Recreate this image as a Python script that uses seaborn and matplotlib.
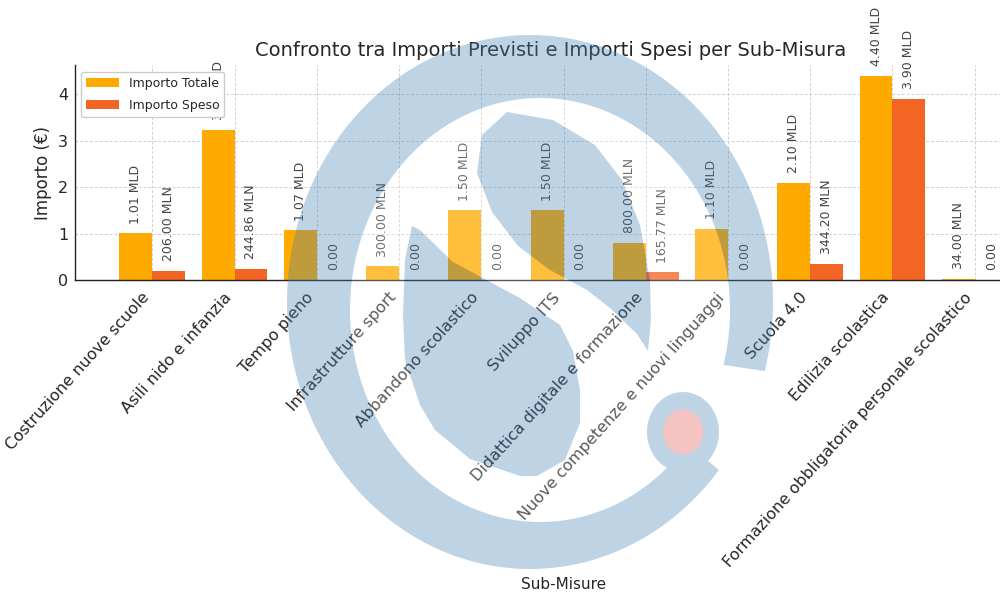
import numpy as np
import pandas as pd
import matplotlib
matplotlib.use("Agg")
import matplotlib.pyplot as plt
import seaborn as sb
from matplotlib.path import Path
from matplotlib.patches import PathPatch, Ellipse

# dati (miliardi di euro)
sub_misure = [
    "Costruzione nuove scuole", "Asili nido e infanzia", "Tempo pieno",
    "Infrastrutture sport", "Abbandono scolastico", "Sviluppo ITS",
    "Didattica digitale e formazione", "Nuove competenze e nuovi linguaggi",
    "Scuola 4.0", "Edilizia scolastica",
    "Formazione obbligatoria personale scolastico",
]
importo_totale = [1.01, 3.24, 1.07, 0.30, 1.50, 1.50, 0.80, 1.10, 2.10, 4.40, 0.034]
importo_speso = [0.206, 0.24486, 0.0, 0.0, 0.0, 0.0, 0.16577, 0.0, 0.3442, 3.90, 0.0]
serie = ["Importo Totale", "Importo Speso"]
colori = ["#FFAA00", "#F26522"]


def fmt(v):
    if v >= 1:
        return f"{v:.2f} MLD"
    if v > 0:
        return f"{v * 1000:.2f} MLN"
    return "0.00"


df = pd.DataFrame({
    "Sub-Misure": sub_misure * 2,
    "Importo": importo_totale + importo_speso,
    "Serie": [serie[0]] * len(sub_misure) + [serie[1]] * len(sub_misure),
})

sb.set_style("whitegrid")
plt.rcParams['font.family'] = ['DejaVu Sans']

fig = plt.figure(figsize=(10, 6), dpi=100)
ax = fig.add_axes([0.075, 0.533, 0.977, 0.358])

sb.barplot(data=df, x="Sub-Misure", y="Importo", hue="Serie",
           palette=colori, width=0.8, saturation=1, linewidth=0,
           ax=ax, legend=True)

ax.set_xlim(-0.94, 10.94)
ax.set_ylim(0, 4.62)
ax.set_yticks([0, 1, 2, 3, 4])
ax.grid(True, linestyle=(0, (3, 2)), color="#d0d0d0", linewidth=0.7)
ax.set_axisbelow(True)
for s in ["top", "right"]:
    ax.spines[s].set_visible(False)
for s in ["left", "bottom"]:
    ax.spines[s].set_visible(True)
    ax.spines[s].set_color("#222222")
    ax.spines[s].set_linewidth(1.0)
ax.tick_params(direction="in", length=3, width=1, color="#444444")
ax.tick_params(axis="x", pad=7)
ax.tick_params(axis="y", pad=5)

# etichette sulle barre
valori = importo_totale + importo_speso
for p, v in zip(ax.patches[:len(valori)], valori):
    ax.annotate(fmt(v), (p.get_x() + p.get_width() / 2, p.get_height()),
                xytext=(0, 7), textcoords="offset points", rotation=90,
                ha="center", va="bottom", fontsize=9, color="#444444",
                annotation_clip=False)

ax.set_xticks(range(len(sub_misure)))
ax.set_xticklabels(sub_misure, rotation=48, ha="right", fontsize=11.5)
ax.tick_params(axis="y", labelsize=11.5)
ax.set_xlabel("Sub-Misure", fontsize=11, labelpad=5)
ax.set_ylabel("Importo (€)", fontsize=12)
ax.set_title("Confronto tra Importi Previsti e Importi Spesi per Sub-Misura",
             fontsize=14, pad=7, x=0.487)
ax.legend(loc="upper left", fontsize=9, frameon=True, framealpha=1,
          edgecolor="#cccccc", labelspacing=0.75, handlelength=2.6)


# filigrana (logo semitrasparente), in pixel dall'angolo in alto a sinistra
def px(pts, ccw=True):
    pts = np.array([(x / 1000, 1 - y / 600) for x, y in pts])
    x, y = pts[:, 0], pts[:, 1]
    area = 0.5 * np.sum(x * np.roll(y, -1) - np.roll(x, -1) * y)
    return pts if (area > 0) == ccw else pts[::-1]


def est(a):
    return (530 + 243 * np.cos(a), 302 - 267 * np.sin(a))


def intr(a):
    return (540 + 190 * np.cos(a), 310 - 212 * np.sin(a))


t = np.radians(np.linspace(-15, 321, 220))
anello = [est(a) for a in t] + [intr(a) for a in t[::-1]]
varco = np.radians(np.linspace(-39, -15, 30))
fondo = [est(a) for a in varco] + [intr(a) for a in t]

s_alto = [(507, 112), (553, 120), (595, 145), (622, 180), (640, 225), (650, 280),
          (651, 320), (648, 351), (637, 334), (610, 308), (587, 290), (550, 270),
          (518, 246), (492, 212), (477, 173), (482, 135)]
s_basso = [(412, 226), (420, 230), (453, 262), (520, 298), (560, 325), (573, 351),
           (580, 390), (580, 423), (565, 460), (537, 476), (520, 476), (470, 459),
           (435, 430), (420, 405), (405, 360), (403, 316), (405, 260)]
u = np.linspace(0, 2 * np.pi, 80)
goccia = [(683 + 36 * np.cos(a), 432 + 40 * np.sin(a)) for a in u]

# parte bianca del logo, con i buchi per le forme blu
bianco = Path.make_compound_path(
    Path(px(fondo)), *[Path(px(f, ccw=False)) for f in (s_alto, s_basso, goccia)])
fig.patches.append(PathPatch(bianco, transform=fig.transFigure, facecolor="white",
                             edgecolor="none", alpha=0.24))

blu = Path.make_compound_path(*[Path(px(f)) for f in (anello, s_alto, s_basso, goccia)])
fig.patches.append(PathPatch(blu, transform=fig.transFigure, facecolor="steelblue",
                             edgecolor="none", alpha=0.35))
fig.patches.append(Ellipse((683 / 1000, 1 - 432 / 600), 0.04, 0.075,
                           transform=fig.transFigure, facecolor="#f6c3c3",
                           edgecolor="none"))

fig.savefig("out.png", dpi=100)
